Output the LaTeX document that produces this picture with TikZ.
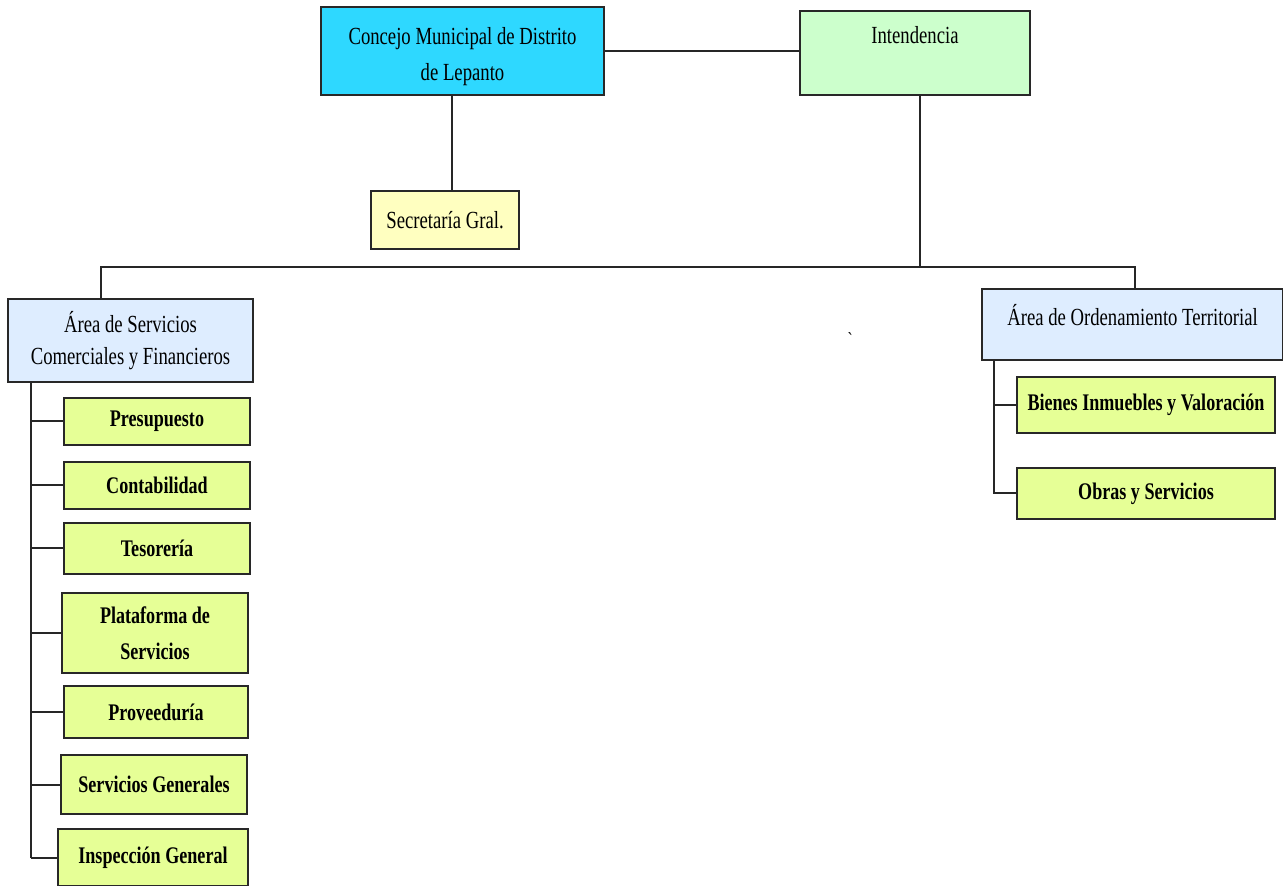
\documentclass[tikz,border=0pt]{standalone}
\usepackage{fontspec}
\setmainfont{Liberation Serif}[FakeStretch=0.76]
\usepackage{tikz}
\usetikzlibrary{positioning}

\definecolor{cyanbox}{RGB}{46,216,255}
\definecolor{mintbox}{RGB}{204,255,204}
\definecolor{creambox}{RGB}{255,255,192}
\definecolor{skybox}{RGB}{222,237,255}
\definecolor{limebox}{RGB}{230,255,150}
\definecolor{edge}{RGB}{40,40,40}

\tikzset{
  unit/.style={draw=edge, line width=1pt, align=center, inner sep=2pt,
    font=\fontsize{12.3}{18}\selectfont},
  office/.style={unit, font=\fontsize{11.9}{18}\selectfont\bfseries, fill=limebox},
  link/.style={line width=1pt, draw=black!85}
}

\begin{document}
\begin{tikzpicture}[x=0.5pt, y=-0.5pt]
\useasboundingbox (0,0) rectangle (1283,886);
% top level
\node[unit, fill=cyanbox, minimum width=141.5pt, minimum height=44pt] (concejo) at (462.5,51) {\rule{0pt}{14pt}Concejo Municipal de Distrito\\de Lepanto};
\node[unit, fill=mintbox, minimum width=115pt, minimum height=42pt] (intend) at (915,53) {Intendencia\\~};
\node[unit, fill=creambox, minimum width=74pt, minimum height=29pt] (secre) at (445,220) {Secretar\'ia Gral.};
% areas
\node[unit, fill=skybox, minimum width=122.5pt, minimum height=41.5pt, font=\fontsize{12.3}{16}\selectfont] (asc) at (130.5,340.5) {\rule{0pt}{11pt}\'Area de Servicios\\Comerciales y Financieros};
\node[unit, fill=skybox, minimum width=150.5pt, minimum height=35.5pt] (aot) at (1132.5,324.5) {\'Area de Ordenamiento Territorial\\[-8pt]~};
\node (mark) at (851,340) {\textasciigrave};
% offices, left
\node[office, minimum width=93pt, minimum height=23.5pt] (presu) at (157,421.5) {Presupuesto};
\node[office, minimum width=93pt, minimum height=23.5pt] (conta) at (157,485.5) {Contabilidad};
\node[office, minimum width=93pt, minimum height=25.5pt] (teso) at (157,548.5) {Tesorer\'ia};
\node[office, minimum width=93pt, minimum height=40pt] (plat) at (155,633) {Plataforma de\\Servicios};
\node[office, minimum width=92pt, minimum height=26pt] (prov) at (156,712) {Proveedur\'ia};
\node[office, minimum width=93pt, minimum height=29.5pt] (sgen) at (154,784.5) {Servicios Generales};
\node[office, minimum width=95pt, minimum height=28.5pt] (insp) at (153,857.5) {Inspecci\'on General};
% offices, right
\node[office, minimum width=129pt, minimum height=28pt] (bienes) at (1146,405) {Bienes Inmuebles y Valoraci\'on};
\node[office, minimum width=129pt, minimum height=25.5pt] (obras) at (1146,493.5) {Obras y Servicios};
%
\coordinate (bus) at (920,267);
\coordinate (busL) at (101,267);
\coordinate (busR) at (1135,267);
\coordinate (lsp) at (31,0);
\coordinate (rsp) at (994,0);
%
\draw[link] (concejo.east) -- (concejo.east -| intend.west);
\draw[link] (secre.north -| 452,0) -- (concejo.south -| 452,0);
\draw[link] (intend.south -| bus) -- (bus);
\draw[link] (asc.north -| busL) -- (busL) -- (busR) -- (aot.north -| busR);
\draw[link] (asc.south -| lsp) -- (insp.west -| lsp);
\foreach \b in {presu, conta, teso, plat, prov, sgen, insp}
  \draw[link] (\b.west -| lsp) -- (\b.west);
\draw[link] (aot.south -| rsp) |- (obras.west);
\draw[link] (bienes.west -| rsp) -- (bienes.west);
\end{tikzpicture}
\end{document}
